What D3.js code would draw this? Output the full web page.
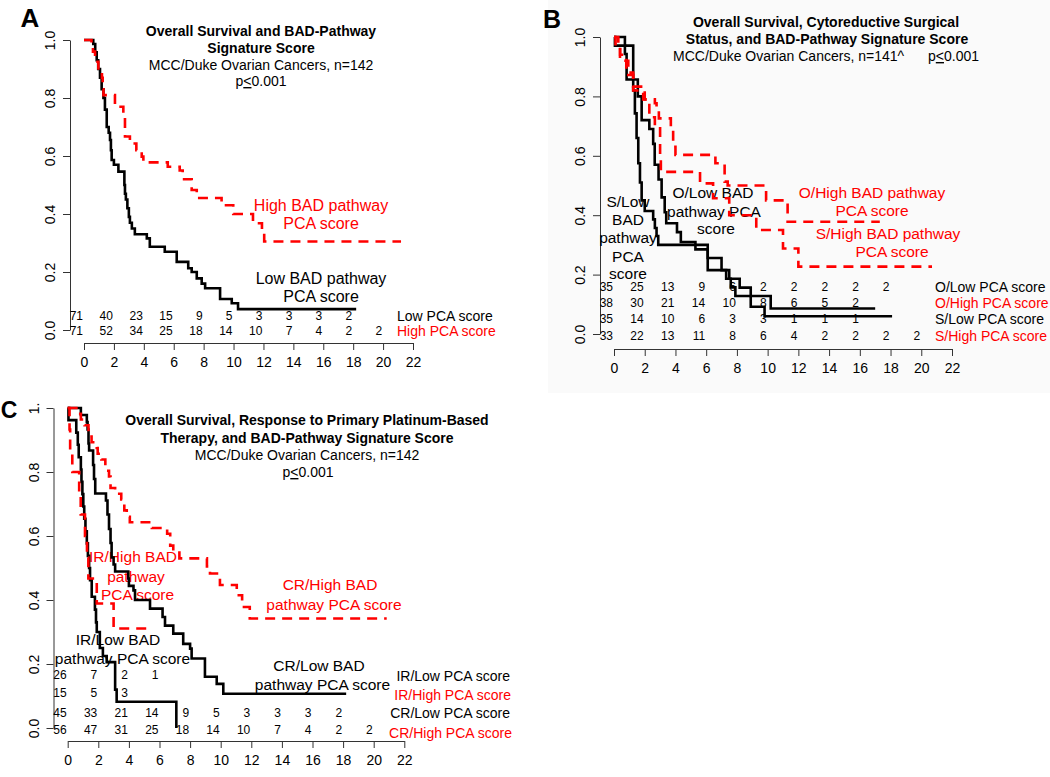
<!DOCTYPE html>
<html><head><meta charset="utf-8">
<script src="https://cdn.jsdelivr.net/npm/d3@7/dist/d3.min.js"></script>
<style>
html,body{margin:0;padding:0;background:#fff;}
svg{display:block;font-family:"Liberation Sans",Arial,sans-serif;}
</style></head>
<body><svg id="chart" width="1050" height="777"></svg>
<script>
// ---------- DATA ----------
const xTicks = [0,2,4,6,8,10,12,14,16,18,20,22];
const yTicks = [0,0.2,0.4,0.6,0.8,1.0];
const yTickLabelsAB = ["0.0","0.2","0.4","0.6","0.8","1.0"];
const yTickLabelsC = ["0.0","0.2","0.4","0.6","0.8","1."];
const riskTimes = [0,2,4,6,8,10,12,14,16,18,20];

// Panel A
const aLow = [[0,1],[0.62,0.986],[0.75,0.958],[0.85,0.93],[0.95,0.9],[1.07,0.87],[1.18,0.83],[1.3,0.8],[1.4,0.76],[1.52,0.70],[1.65,0.68],[1.74,0.655],[1.8,0.62],[1.85,0.586],[2.0,0.57],[2.3,0.546],[2.7,0.5],[2.74,0.47],[2.8,0.45],[2.9,0.42],[3.0,0.39],[3.07,0.37],[3.2,0.35],[3.4,0.33],[4.2,0.316],[4.4,0.287],[5.4,0.27],[6.2,0.235],[6.97,0.213],[7.2,0.20],[7.54,0.178],[7.87,0.16],[8.1,0.144],[9.1,0.107],[9.88,0.092],[10.3,0.072],[18.2,0.072]];
const aHigh = [[0,1],[0.5,0.986],[0.6,0.96],[0.74,0.925],[0.96,0.896],[1.2,0.87],[1.25,0.83],[1.3,0.81],[2.07,0.77],[2.63,0.74],[2.74,0.667],[3.07,0.643],[3.5,0.62],[3.86,0.598],[3.97,0.578],[5.6,0.563],[6.4,0.55],[6.6,0.52],[7.2,0.483],[7.54,0.455],[9.2,0.43],[9.98,0.40],[11.3,0.368],[11.9,0.333],[12.05,0.305],[21.2,0.305]];
const aRiskLow = [71,40,23,15,9,5,3,3,3,2];
const aRiskHigh = [71,52,34,25,18,14,10,7,4,2,2];

// Panel B
const bOLow = [[0,1],[0.71,0.971],[1.25,0.857],[1.55,0.8],[1.8,0.72],[2.3,0.69],[2.55,0.64],[2.65,0.57],[2.9,0.52],[3.1,0.46],[3.3,0.41],[3.4,0.373],[4.1,0.343],[4.35,0.31],[5.3,0.285],[6.1,0.256],[7.0,0.215],[7.5,0.186],[8.18,0.156],[8.9,0.128],[10.2,0.086],[17.0,0.086]];
const bSLow = [[0,1],[0.06,0.971],[0.71,0.943],[0.82,0.857],[1.25,0.82],[1.36,0.743],[1.47,0.66],[1.58,0.575],[1.69,0.51],[1.8,0.45],[2.0,0.414],[2.55,0.386],[2.66,0.357],[2.77,0.33],[2.88,0.30],[6.1,0.215],[7.3,0.186],[7.6,0.157],[7.9,0.128],[8.9,0.092],[9.8,0.06],[18.1,0.06]];
const bOHigh = [[0,1],[0.28,0.974],[0.39,0.92],[0.93,0.872],[1.25,0.833],[2.0,0.79],[2.66,0.777],[2.77,0.754],[2.92,0.726],[3.7,0.698],[3.85,0.63],[4.0,0.603],[6.6,0.575],[7.2,0.513],[7.4,0.50],[9.9,0.45],[11.3,0.378],[17.3,0.378]];
const bSHigh = [[0,1],[0.1,0.97],[0.4,0.94],[0.8,0.88],[1.25,0.82],[1.9,0.79],[2.3,0.73],[2.66,0.70],[3.0,0.59],[3.05,0.546],[5.6,0.507],[6.45,0.457],[7.5,0.40],[9.26,0.35],[11.0,0.288],[12.0,0.227],[20.7,0.227]];
const bRiskOLow = [35,25,13,9,6,2,2,2,2,2];
const bRiskOHigh = [38,30,21,14,10,8,6,5,2];
const bRiskSLow = [35,14,10,6,3,3,1,1,1];
const bRiskSHigh = [33,22,13,11,8,6,4,2,2,2,2];

// Panel C
const cIRLow = [[0,1],[0.05,0.962],[0.56,0.923],[0.66,0.885],[0.72,0.846],[0.86,0.808],[0.9,0.769],[0.96,0.731],[1.02,0.692],[1.08,0.654],[1.16,0.615],[1.25,0.577],[1.32,0.538],[1.4,0.5],[1.46,0.462],[1.57,0.41],[1.78,0.37],[1.85,0.33],[1.9,0.30],[2.1,0.25],[2.3,0.225],[2.55,0.206],[3.1,0.12],[3.2,0.082],[7.1,0]];
const cIRHigh = [[0,1],[0.12,0.933],[0.16,0.867],[0.3,0.80],[0.75,0.733],[0.85,0.667],[1.13,0.60],[1.26,0.533],[1.35,0.467],[1.9,0.389],[3.0,0.311],[5.16,0.311]];
const cCRLow = [[0,1],[0.86,0.978],[1.25,0.956],[1.3,0.933],[1.36,0.889],[1.4,0.867],[1.66,0.822],[1.72,0.778],[1.8,0.733],[2.5,0.711],[2.6,0.667],[2.7,0.622],[2.8,0.578],[2.87,0.533],[3.0,0.511],[3.1,0.489],[3.96,0.467],[4.0,0.444],[4.3,0.43],[4.4,0.40],[5.38,0.373],[6.2,0.347],[6.36,0.32],[6.9,0.295],[7.55,0.263],[8.0,0.248],[8.1,0.217],[8.97,0.16],[9.74,0.138],[10.17,0.107],[18.2,0.107]];
const cCRHigh = [[0,1],[0.66,0.982],[0.86,0.964],[1.1,0.946],[1.36,0.911],[1.56,0.893],[1.9,0.875],[1.96,0.857],[2.2,0.839],[2.46,0.804],[2.7,0.786],[2.8,0.75],[3.1,0.732],[3.5,0.714],[3.7,0.68],[3.86,0.66],[4.06,0.643],[5.5,0.625],[6.5,0.607],[6.7,0.57],[6.9,0.553],[7.3,0.53],[9.1,0.505],[9.3,0.483],[9.95,0.447],[11.05,0.415],[11.4,0.378],[11.9,0.342],[20.85,0.342]];
const cRiskIRLow = [26,7,2,1];
const cRiskIRHigh = [15,5,3];
const cRiskCRLow = [45,33,21,14,9,5,3,3,3,2];
const cRiskCRHigh = [56,47,31,25,18,14,10,7,4,2,2];

// Text
const aTitle = ["Overall Survival and BAD-Pathway","Signature Score"];
const bTitle = ["Overall Survival, Cytoreductive Surgical","Status, and BAD-Pathway Signature Score"];
const cTitle = ["Overall Survival, Response to Primary Platinum-Based","Therapy, and BAD-Pathway Signature Score"];
const subA = "MCC/Duke Ovarian Cancers, n=142";
const subB = "MCC/Duke Ovarian Cancers, n=141^";

// ---------- DRAW ----------
const RED = "#ff0000";
const svg = d3.select("#chart");
svg.append("rect").attr("x",0).attr("y",0).attr("width",1050).attr("height",777).attr("fill","#fff");
svg.append("rect").attr("x",548).attr("y",0).attr("width",502).attr("height",393).attr("fill","#fafafa");

function makePanel(cfg){
  const g = svg.append("g");
  const x = d3.scaleLinear().domain([0,22]).range(cfg.xr);
  const y = d3.scaleLinear().domain([0,1]).range(cfg.yr);
  // axes
  const xa = g.append("g").attr("transform",`translate(0,${cfg.axY})`)
    .call(d3.axisBottom(x).tickValues(xTicks).tickSize(7).tickSizeOuter(0).tickPadding(7));
  xa.selectAll("text").attr("font-size",14).attr("fill","#000").attr("font-family","Liberation Sans, Arial, sans-serif");
  const ya = g.append("g").attr("transform",`translate(${cfg.axX},0)`)
    .call(d3.axisLeft(y).tickValues(yTicks).tickFormat((d,i)=>cfg.yLabels[i]).tickSize(7).tickSizeOuter(0));
  ya.selectAll("text").attr("transform","rotate(-90)").attr("x",0).attr("y",-15).attr("dy",0)
    .attr("text-anchor","middle").attr("font-size",14).attr("fill","#000").attr("font-family","Liberation Sans, Arial, sans-serif");
  [xa,ya].forEach(a=>{a.selectAll("path,line").attr("stroke","#333").attr("stroke-width",1);});
  return {g,x,y};
}

function stepLine(p, data, color, dashed){
  const line = d3.line().x(d=>p.x(d[0])).y(d=>p.y(d[1])).curve(d3.curveStepAfter);
  p.g.append("path").attr("d",line(data)).attr("fill","none").attr("stroke",color)
    .attr("stroke-width",2.6).attr("stroke-dasharray",dashed?"10,7":null);
}

function riskRow(p, vals, yb){
  p.g.selectAll(null).data(vals).enter().append("text")
    .attr("x",(d,i)=>p.x(riskTimes[i])-1).attr("y",yb).attr("text-anchor","end")
    .attr("font-size",12).attr("fill","#000").text(d=>d);
}

function txt(g, x, y, s, opt={}){
  return g.append("text").attr("x",x).attr("y",y).attr("text-anchor",opt.anchor||"middle")
    .attr("font-size",opt.size||14).attr("font-weight",opt.bold?"bold":"normal")
    .attr("fill",opt.color||"#000").text(s);
}
function ptxt(g, x, y, anchor){
  const t = g.append("text").attr("x",x).attr("y",y).attr("text-anchor",anchor||"middle").attr("font-size",14);
  t.append("tspan").text("p");
  t.append("tspan").attr("text-decoration","underline").text("<");
  t.append("tspan").text("0.001");
}

// ----- Panel A -----
const A = makePanel({xr:[84,413], yr:[330,40], axX:70, axY:343, yLabels:yTickLabelsAB});
txt(A.g,30,27,"A",{size:26,bold:true});
txt(A.g,261,36,aTitle[0],{bold:true});
txt(A.g,261,53,aTitle[1],{bold:true});
txt(A.g,261,70,subA);
ptxt(A.g,261,86);
txt(A.g,321,211,"High BAD pathway",{size:16,color:RED});
txt(A.g,321,229,"PCA score",{size:16,color:RED});
txt(A.g,321,284,"Low BAD pathway",{size:16});
txt(A.g,321,302,"PCA score",{size:16});
riskRow(A,aRiskLow,320);
riskRow(A,aRiskHigh,335);
txt(A.g,397,321,"Low PCA score",{anchor:"start"});
txt(A.g,397,336,"High PCA score",{anchor:"start",color:RED});
stepLine(A,aLow,"#000",false);
stepLine(A,aHigh,RED,true);

// ----- Panel B -----
const B = makePanel({xr:[614,952], yr:[334,37], axX:600, axY:349, yLabels:yTickLabelsAB});
txt(B.g,552,28,"B",{size:25,bold:true});
txt(B.g,826,27,bTitle[0],{bold:true});
txt(B.g,827,44,bTitle[1],{bold:true});
txt(B.g,673,61,subB,{anchor:"start"});
ptxt(B.g,928,61,"start");
[["S/Low",207],["BAD",225],["pathway",243],["PCA",262],["score",279]].forEach(d=>txt(B.g,628,d[1],d[0],{size:15.5}));
txt(B.g,713,198,"O/Low BAD",{size:15.5});
txt(B.g,714,217,"pathway PCA",{size:15.5});
txt(B.g,716,234,"score",{size:15.5});
txt(B.g,872,198,"O/High BAD pathway",{size:15.5,color:RED});
txt(B.g,872,216,"PCA score",{size:15.5,color:RED});
txt(B.g,888,239,"S/High BAD pathway",{size:15.5,color:RED});
txt(B.g,892,257,"PCA score",{size:15.5,color:RED});
riskRow(B,bRiskOLow,291);
riskRow(B,bRiskOHigh,307);
riskRow(B,bRiskSLow,323);
riskRow(B,bRiskSHigh,340);
txt(B.g,935,292,"O/Low PCA score",{anchor:"start"});
txt(B.g,935,308,"O/High PCA score",{anchor:"start",color:RED});
txt(B.g,935,324,"S/Low PCA score",{anchor:"start"});
txt(B.g,935,341,"S/High PCA score",{anchor:"start",color:RED});
stepLine(B,bOLow,"#000",false);
stepLine(B,bSLow,"#000",false);
stepLine(B,bOHigh,RED,true);
stepLine(B,bSHigh,RED,true);

// ----- Panel C -----
const C = makePanel({xr:[67.7,404.3], yr:[728,408], axX:53.5, axY:741, yLabels:yTickLabelsC});
txt(C.g,9,418,"C",{size:23,bold:true});
txt(C.g,307,425,cTitle[0],{bold:true});
txt(C.g,307,443,cTitle[1],{bold:true});
txt(C.g,307,460,subA);
ptxt(C.g,308,477);
txt(C.g,133,562,"IR/High BAD",{size:15.5,color:RED});
txt(C.g,136,582,"pathway",{size:15.5,color:RED});
txt(C.g,137.5,600,"PCA score",{size:15.5,color:RED});
txt(C.g,330,590,"CR/High BAD",{size:15.5,color:RED});
txt(C.g,334,610,"pathway PCA score",{size:15.5,color:RED});
txt(C.g,118,645,"IR/Low BAD",{size:15.5});
txt(C.g,122.5,664,"pathway PCA score",{size:15.5});
txt(C.g,319,671,"CR/Low BAD",{size:15.5});
txt(C.g,322.5,690,"pathway PCA score",{size:15.5});
riskRow(C,cRiskIRLow,679);
riskRow(C,cRiskIRHigh,697);
riskRow(C,cRiskCRLow,717);
riskRow(C,cRiskCRHigh,734);
txt(C.g,510,681,"IR/Low PCA score",{anchor:"end"});
txt(C.g,511,700,"IR/High PCA score",{anchor:"end",color:RED});
txt(C.g,510,718,"CR/Low PCA score",{anchor:"end"});
txt(C.g,512,738,"CR/High PCA score",{anchor:"end",color:RED});
stepLine(C,cIRLow,"#000",false);
stepLine(C,cCRLow,"#000",false);
stepLine(C,cIRHigh,RED,true);
stepLine(C,cCRHigh,RED,true);
</script></body></html>
